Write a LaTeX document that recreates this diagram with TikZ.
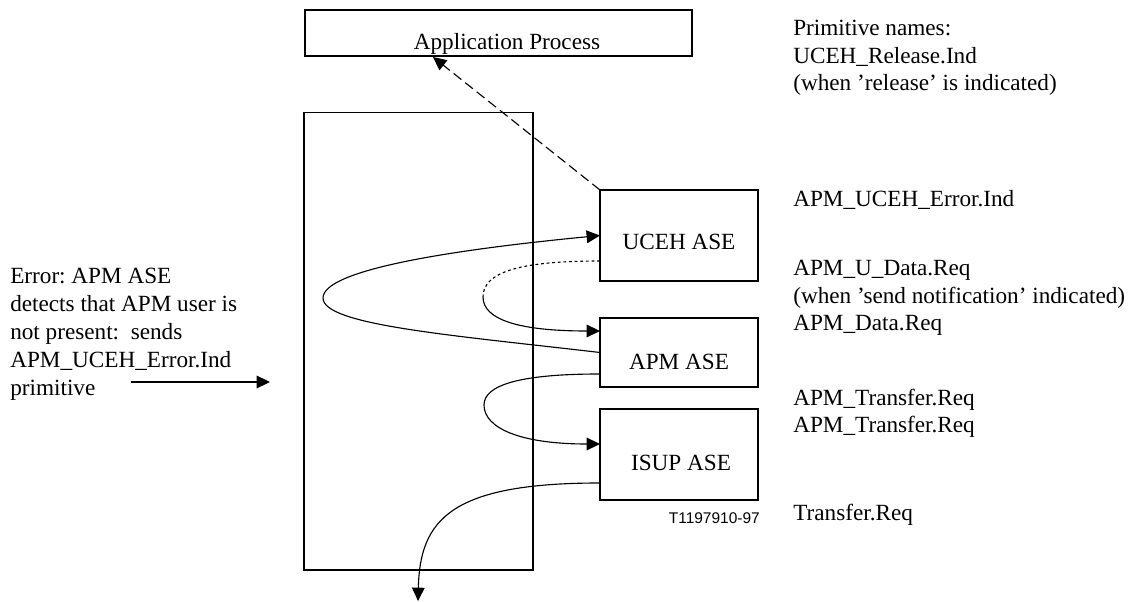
\documentclass[tikz,border=0pt]{standalone}
\usepackage{fontspec}
\setmainfont{Liberation Serif}
\newfontfamily\tagfont{Liberation Sans}
\usetikzlibrary{arrows.meta,calc}
\frenchspacing
\newcommand{\diagfont}{\fontsize{16.5}{19.9}\selectfont}
\tikzset{
  blk/.style={draw,inner sep=0,outer sep=0,line width=0.8pt},
  txt/.style={font=\diagfont,inner sep=0,anchor=base west,align=left},
  lbl/.style={font=\diagfont,inner sep=0,anchor=base},
  flow/.style={line width=0.8pt,->},
}

\begin{document}
\begin{tikzpicture}[x=0.025cm,y=-0.025cm,>={Triangle[length=9.5pt,width=9pt]}]
\useasboundingbox (0,0) rectangle (1137,602);
\node[blk,minimum width=9.675cm,minimum height=1.15cm] (app) at (498.5,33) {};
\node[lbl] (applbl) at (507,50) {Application Process};
\node[blk,minimum width=5.725cm,minimum height=11.425cm] (stack) at (418.5,341.5) {};
\node[blk,minimum width=3.95cm,minimum height=2.275cm] (uceh) at (679,235.5) {};
\node[lbl] (ucehlbl) at (679,250) {UCEH ASE};
\node[blk,minimum width=3.95cm,minimum height=1.725cm] (apm) at (679,352.5) {};
\node[lbl] (apmlbl) at (679,370) {APM ASE};
\node[blk,minimum width=3.95cm,minimum height=2.275cm] (isup) at (679,454.5) {};
\node[lbl] (isuplbl) at (681,470) {ISUP ASE};
\node[inner sep=0,anchor=base east,font=\tagfont\fontsize{11}{13}\selectfont] (fig) at (760,523.5) {T1197910-97};

\node[txt] (prim) at (793,91) {Primitive names:\\UCEH\_Release.Ind\\(when 'release' is indicated)};
\node[txt] (errind) at (793,207) {APM\_UCEH\_Error.Ind};
\node[txt] (udata) at (793,331) {APM\_U\_Data.Req\\(when 'send notification' indicated)\\APM\_Data.Req};
\node[txt] (transf) at (793,433) {APM\_Transfer.Req\\APM\_Transfer.Req};
\node[txt] (treq) at (793,520) {Transfer.Req};
\node[txt] (errtxt) at (10,395) {Error: APM ASE\\detects that APM user is\\not present: \ sends\\APM\_UCEH\_Error.Ind\\primitive};

\coordinate (inA) at (131,382);
\coordinate (inB) at (270,382);
\coordinate (uptip) at (433,57);
\coordinate (outtip) at (418,601);

\draw[flow] (inA) -- (inB);
\draw[flow,dash pattern=on 7pt off 3.5pt] (uceh.north west) -- (uptip);
\draw[flow] (apm.west) .. controls (450,335) and (323,325) .. (323,298)
  .. controls (323,270) and (450,250) .. (uceh.west);
\draw[line width=0.8pt,dash pattern=on 2pt off 2pt] ($(uceh.west)+(0,25.5)$) .. controls (520,261) and (483,272) .. (483,297);
\draw[flow] (483,297) .. controls (483,320) and (520,331) .. ($(apm.west)+(0,-21.5)$);
\draw[flow] ($(apm.west)+(0,21.5)$) .. controls (520,374) and (484,385) .. (484,405)
  .. controls (484,428) and (520,444) .. ($(isup.west)+(0,-10.5)$);
\draw[flow] ($(isup.west)+(0,28.5)$) .. controls (450,483) and (420,520) .. (outtip);
\end{tikzpicture}
\end{document}
